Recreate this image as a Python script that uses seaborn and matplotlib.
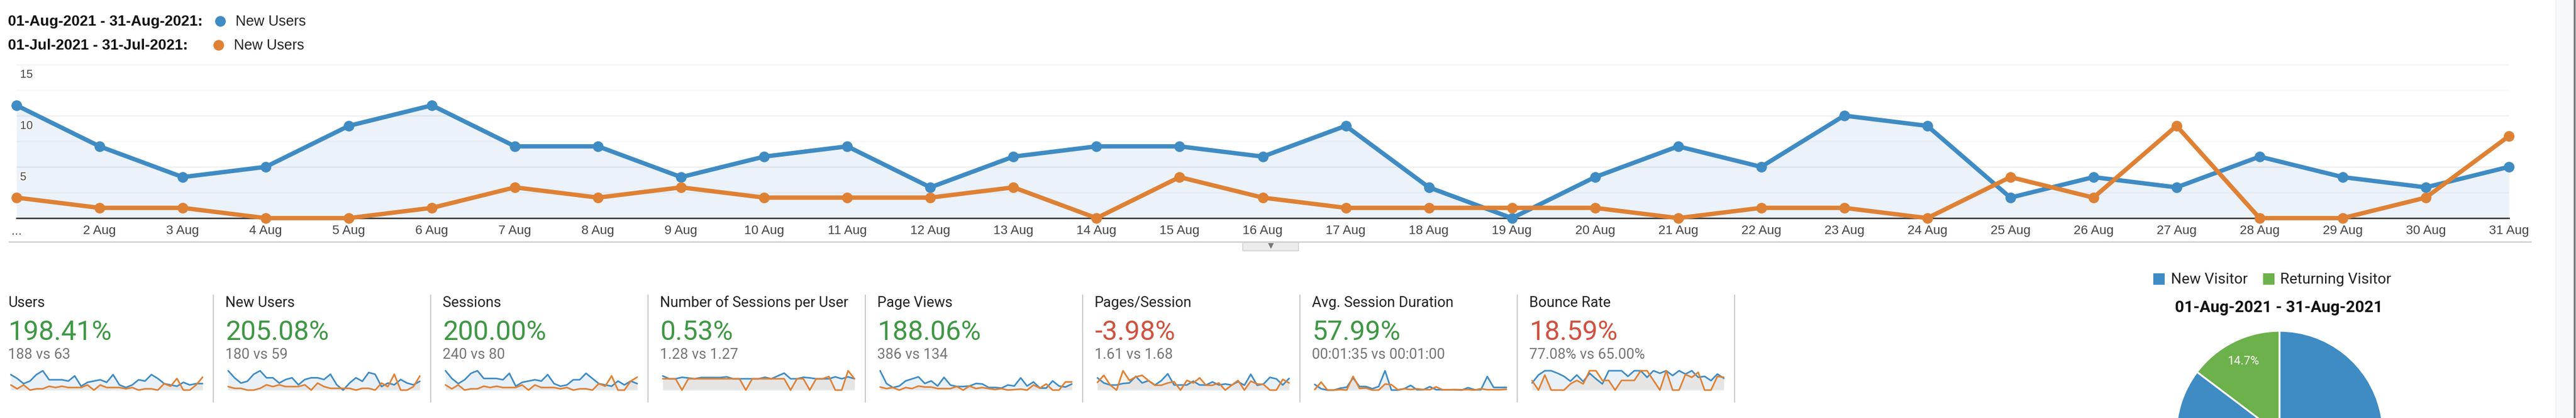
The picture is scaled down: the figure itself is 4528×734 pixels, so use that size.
import matplotlib
matplotlib.use("Agg")
import matplotlib.pyplot as plt
import matplotlib.patheffects as pe
from matplotlib.patches import Rectangle
from matplotlib.transforms import ScaledTranslation
import seaborn as sns

W, H = 4528, 734

BLUE = "#3f8bc3"
ORANGE = "#de8135"
GREEN = "#6cb14b"
UP = "#3f9744"
DOWN = "#cf5241"

days = list(range(1, 32))
day_labels = ["..."] + [f"{d} Aug" for d in days[1:]]

new_users_aug = [11, 7, 4, 5, 9, 11, 7, 7, 4, 6, 7, 3, 6, 7, 7, 6, 9, 3, 0, 4, 7, 5, 10, 9, 2, 4, 3, 6, 4, 3, 5]
new_users_jul = [2, 1, 1, 0, 0, 1, 3, 2, 3, 2, 2, 2, 3, 0, 4, 2, 1, 1, 1, 1, 0, 1, 1, 0, 4, 2, 9, 0, 0, 2, 8]

users_aug = [12, 9, 5, 7, 12, 15, 8, 8, 8, 7, 11, 3, 6, 7, 8, 6, 12, 4, 2, 4, 8, 7, 12, 9, 5, 4, 3, 6, 4, 5, 5]
users_jul = [4, 1, 4, 0, 1, 1, 3, 2, 3, 2, 2, 2, 4, 0, 4, 2, 2, 2, 1, 2, 0, 1, 1, 0, 5, 3, 9, 0, 0, 4, 10]

sessions_aug = [15, 9, 5, 8, 13, 15, 9, 9, 9, 8, 13, 3, 6, 7, 8, 7, 12, 5, 3, 4, 8, 8, 13, 9, 5, 4, 3, 7, 4, 7, 5]
sessions_jul = [4, 1, 4, 0, 1, 1, 3, 2, 3, 2, 2, 2, 4, 0, 4, 2, 2, 2, 1, 2, 0, 1, 1, 0, 5, 3, 11, 0, 0, 7, 10]

per_user_aug = [1.25, 1, 1, 1.13, 1.07, 1, 1.11, 1.11, 1.11, 1.11, 1.17, 1, 1, 1, 1, 1, 1.13, 1, 1.25, 1.5, 1, 1, 1.13, 1.08, 1, 1, 1, 1.17, 1, 1.17, 1]
per_user_jul = [1, 1, 1, 0, 1, 1, 1, 1, 1, 1, 1, 1, 1, 0, 1, 1, 1, 1, 1, 1, 0, 1, 1, 0, 1, 1, 1.2, 0, 0, 1.71, 1]

views_aug = [38, 13, 5, 8, 18, 22, 26, 13, 18, 8, 25, 10, 7, 7, 8, 13, 12, 5, 5, 4, 10, 8, 24, 8, 16, 4, 4, 18, 8, 6, 12]
views_jul = [6, 3, 5, 0, 5, 3, 8, 6, 6, 3, 3, 3, 7, 0, 8, 3, 5, 3, 1, 3, 0, 1, 2, 0, 10, 4, 12, 0, 0, 16, 16]

pages_aug = [2.4, 1.4, 1, 1, 1.3, 1.4, 2.7, 1.4, 1.85, 1, 1.85, 3.2, 1, 1, 1, 1.75, 1, 1, 1.6, 1, 1.2, 1, 1.65, 0.95, 3.1, 0.95, 1.2, 2.5, 2.2, 1, 2.3]
pages_jul = [1.5, 2.9, 1, 0, 3.8, 1.9, 2.6, 2.9, 1.85, 0.95, 0.95, 1.4, 1.65, 0, 1.9, 1.4, 2.4, 0.95, 0.95, 1.4, 0, 0.95, 1.9, 0, 1.75, 1.2, 1.1, 0, 0, 2.1, 1.4]

duration_aug = [174, 41, 0, 0, 58, 87, 377, 110, 110, 41, 110, 597, 0, 0, 41, 145, 12, 12, 104, 12, 12, 12, 12, 0, 75, 12, 12, 418, 81, 81, 81]
duration_jul = [17, 249, 0, 0, 17, 0, 423, 52, 64, 0, 0, 186, 168, 12, 41, 17, 41, 17, 12, 99, 12, 12, 17, 12, 17, 0, 41, 12, 12, 12, 23]

bounce_aug = [37, 78, 100, 100, 87, 71, 46, 78, 44, 87, 58, 32, 100, 100, 100, 71, 100, 100, 66, 100, 87, 100, 75, 100, 83, 100, 66, 71, 49, 83, 61]
bounce_jul = [49, 0, 78, 0, 0, 0, 32, 50, 32, 100, 100, 50, 50, 0, 50, 50, 50, 100, 100, 50, 0, 100, 0, 0, 81, 66, 92, 0, 0, 71, 66]

kpi_names = ["Users", "New Users", "Sessions", "Number of Sessions per User",
             "Page Views", "Pages/Session", "Avg. Session Duration", "Bounce Rate"]
kpi_changes = ["198.41%", "205.08%", "200.00%", "0.53%", "188.06%", "-3.98%", "57.99%", "18.59%"]
kpi_compare = ["188 vs 63", "180 vs 59", "240 vs 80", "1.28 vs 1.27", "386 vs 134",
               "1.61 vs 1.68", "00:01:35 vs 00:01:00", "77.08% vs 65.00%"]
kpi_colors = [UP, UP, UP, UP, UP, DOWN, UP, DOWN]
kpi_aug = [users_aug, new_users_aug, sessions_aug, per_user_aug, views_aug, pages_aug, duration_aug, bounce_aug]
kpi_jul = [users_jul, new_users_jul, sessions_jul, per_user_jul, views_jul, pages_jul, duration_jul, bounce_jul]

visitor_labels = ["Returning Visitor", "New Visitor"]
visitor_share = [14.7, 85.3]

sns.set_theme(style="white")
plt.rcParams["font.family"] = ["Roboto", "Liberation Sans", "DejaVu Sans"]

fig = plt.figure(figsize=(W / 100, H / 100), dpi=100, facecolor="white")


def px_axes(x0, y0, x1, y1, **kw):
    # axes from pixel box, y counted from the top like the screenshot
    return fig.add_axes([x0 / W, 1 - y1 / H, (x1 - x0) / W, (y1 - y0) / H], **kw)


# pixel canvas for page furniture and loose text
page = px_axes(0, 0, W, H)
page.set_xlim(0, W)
page.set_ylim(H, 0)
page.axis("off")
page.add_patch(Rectangle((4492, 0), 32, H, facecolor="#f7f8fa", edgecolor="none"))
page.add_patch(Rectangle((4492, 0), 1, H, facecolor="#eeeeee", edgecolor="none"))
page.add_patch(Rectangle((4524, 0), 3, H, facecolor="#777777", edgecolor="none"))
page.add_patch(Rectangle((4527, 0), 1, H, facecolor="#cccccc", edgecolor="none"))
page.plot([16, 4449], [425, 425], color="#cccccc", lw=1.6)
page.add_patch(Rectangle((2184, 425), 98, 15, facecolor="#ececec", edgecolor="#cccccc", lw=1))
page.plot([2234], [432], marker="v", ms=7, color="#777777", mew=0)

# legend
LEGEND_FONT = ["Liberation Sans"]
page.text(14, 38, "01-Aug-2021 - 31-Aug-2021:", fontsize=18.8, family=LEGEND_FONT, fontweight="bold", color="#111111", va="center")
page.text(14, 80, "01-Jul-2021 - 31-Jul-2021:", fontsize=18.8, family=LEGEND_FONT, fontweight="bold", color="#111111", va="center")
page.plot([387], [37], "o", ms=13.5, color=BLUE, mew=0)
page.plot([384], [79], "o", ms=13.5, color=ORANGE, mew=0)
page.text(414, 38, "New Users", fontsize=18.2, family=LEGEND_FONT, color="#222222", va="center")
page.text(411, 80, "New Users", fontsize=18.2, family=LEGEND_FONT, color="#222222", va="center")

# main trend chart
ax = px_axes(29, 113, 4410, 383)
ax.patch.set_alpha(0)
ax.fill_between(days, new_users_aug, 0, color="#ebf2f9", lw=0, zorder=0.3)
for vals, col in ((new_users_aug, BLUE), (new_users_jul, ORANGE)):
    sns.lineplot(x=days, y=vals, ax=ax, color=col, lw=5.5, marker="o", ms=13.5, mew=0,
                 clip_on=False, zorder=4, errorbar=None)
ax.set_xlim(1, 31)
ax.set_ylim(0, 15)
ax.set_yticks([0, 5, 10, 15], ["", "5", "10", "15"])
ax.set_yticks([2.5, 7.5, 12.5], minor=True)
ax.grid(True, which="major", axis="y", color="black", alpha=0.06, lw=1.8)
ax.grid(True, which="minor", axis="y", color="black", alpha=0.03, lw=1.8)
ax.set_axisbelow(True)
ax.tick_params(axis="y", which="both", length=0, pad=-4.5, labelsize=14.5, labelcolor="#444444")
for lbl in ax.get_yticklabels():
    lbl.set_ha("left")
    lbl.set_va("center")
    lbl.set_fontfamily(["Liberation Sans"])
    lbl.set_path_effects([pe.withStroke(linewidth=3, foreground="white")])
    lbl.set_transform(lbl.get_transform() + ScaledTranslation(0, -18 / 100, fig.dpi_scale_trans))
ax.set_xticks(days, day_labels)
ax.tick_params(axis="x", length=0, pad=9, labelsize=16.2, labelcolor="#444444")
for lbl in ax.get_xticklabels():
    lbl.set_fontfamily(["Liberation Sans"])
for name in ("top", "left", "right"):
    ax.spines[name].set_visible(False)
ax.spines["bottom"].set_color("#333333")
ax.spines["bottom"].set_linewidth(1.8)

# KPI tiles with sparklines
STEP = 382
for i, name in enumerate(kpi_names):
    x = 14.3 + STEP * i
    page.text(x, 532, name, fontsize=18.4, color="#212121", va="center")
    page.text(x, 584, kpi_changes[i], fontsize=34.5, color=kpi_colors[i], va="center")
    page.text(x, 623, kpi_compare[i], fontsize=18.4, color="#757575", va="center")
    page.plot([375 + STEP * i] * 2, [518, 706], color="#cccccc", lw=1.5)

    spark = px_axes(19 + STEP * i, 651, 356 + STEP * i, 685)
    spark.patch.set_alpha(0)
    spark.fill_between(days, kpi_aug[i], 0, color="#e9f1f8", lw=0)
    spark.fill_between(days, kpi_jul[i], 0, color=ORANGE, alpha=0.1, lw=0)
    spark.axhline(0, color="#e3eef7", lw=1.5)
    sns.lineplot(x=days, y=kpi_aug[i], ax=spark, color=BLUE, lw=2, clip_on=False, errorbar=None)
    sns.lineplot(x=days, y=kpi_jul[i], ax=spark, color=ORANGE, lw=2, clip_on=False, errorbar=None)
    spark.set_xlim(1, 31)
    spark.set_ylim(0, max(kpi_aug[i] + kpi_jul[i]))
    spark.axis("off")

# visitor pie, cut off by the page edge like the source
page.add_patch(Rectangle((3785, 480), 20, 20, color=BLUE, lw=0))
page.add_patch(Rectangle((3978, 480), 20, 20, color=GREEN, lw=0))
page.text(3816, 491, visitor_labels[1], fontsize=19, color="#222222", va="center")
page.text(4008, 491, visitor_labels[0], fontsize=19, color="#222222", va="center")
page.text(4006, 541, "01-Aug-2021 - 31-Aug-2021", fontsize=20.3, fontweight="bold", color="#111111", va="center", ha="center")

pie_ax = px_axes(4007 - 182, 581, 4007 + 182, 945)
wedges, _, autotexts = pie_ax.pie(visitor_share, colors=[GREEN, BLUE], startangle=90,
                                  autopct=lambda p: f"{p:.1f}%" if p < 50 else "",
                                  pctdistance=0.786,
                                  wedgeprops={"edgecolor": "white", "linewidth": 2.2},
                                  textprops={"color": "white", "fontsize": 15})
pie_ax.set_xlim(-1, 1)
pie_ax.set_ylim(-1, 1)

fig.savefig("out.png", dpi=100)
